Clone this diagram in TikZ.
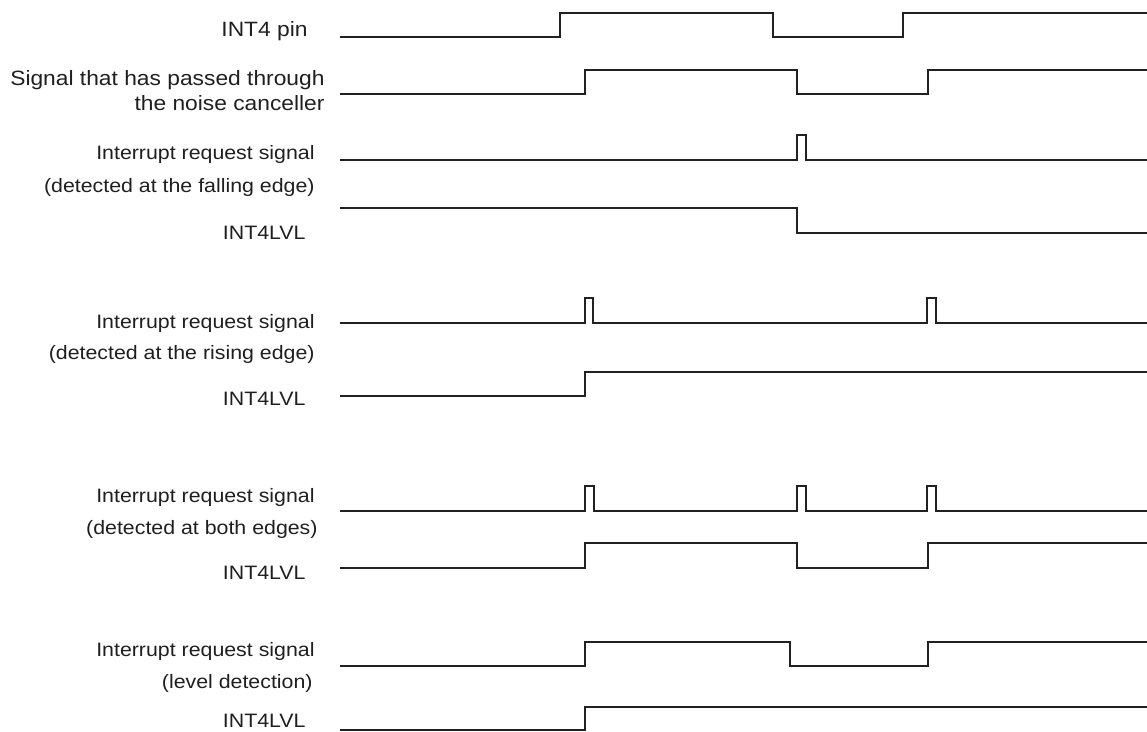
\documentclass[tikz,border=0pt]{standalone}
\usepackage{fontspec}
\setmainfont{Liberation Sans}
\begin{document}
\begin{tikzpicture}[x=0.5pt, y=-0.5pt]

  % Define Colors
  \definecolor{wavegray}{gray}{0.13}
  \definecolor{textgray}{gray}{0.12}

  % Styles
  \tikzstyle{wave}=[line width=1.05pt, wavegray, line join=miter]
  \tikzstyle{lbl}=[anchor=base east, inner sep=0pt, text=textgray, xscale=1.1, transform shape, font=\fontsize{9.7}{12}\selectfont]
  \tikzstyle{lbltop}=[lbl, font=\fontsize{10.36}{12}\selectfont]

  \useasboundingbox (0,0) rectangle (1147,732);

  % Labels
  \node[lbltop] (l_pin)   at (308,37)  {INT4 pin};
  \node[lbltop] (l_nc_1)  at (325,86)  {Signal that has passed through};
  \node[lbltop] (l_nc_2)  at (325,111) {the noise canceller};
  \node[lbl] (l_fe_1)  at (315,160) {Interrupt request signal};
  \node[lbl] (l_fe_2)  at (315,193) {(detected at the falling edge)};
  \node[lbl] (l_fe_3)  at (306,240) {INT4LVL};
  \node[lbl] (l_re_1)  at (315,329) {Interrupt request signal};
  \node[lbl] (l_re_2)  at (315,360) {(detected at the rising edge)};
  \node[lbl] (l_re_3)  at (306,406) {INT4LVL};
  \node[lbl] (l_be_1)  at (315,503) {Interrupt request signal};
  \node[lbl] (l_be_2)  at (318,535) {(detected at both edges)};
  \node[lbl] (l_be_3)  at (306,580) {INT4LVL};
  \node[lbl] (l_lv_1)  at (315,657) {Interrupt request signal};
  \node[lbl] (l_lv_2)  at (313,689) {(level detection)};
  \node[lbl] (l_lv_3)  at (306,727) {INT4LVL};

  % INT4 pin and noise canceller
  \draw[wave] (340,37) -- (560,37) -- (560,13) -- (773,13) -- (773,37) -- (903,37) -- (903,13) -- (1147,13);
  \draw[wave] (340,94) -- (585,94) -- (585,70) -- (797,70) -- (797,94) -- (928,94) -- (928,70) -- (1147,70);

  % Falling edge
  \draw[wave] (340,160) -- (797,160) -- (797,135) -- (806,135) -- (806,160) -- (1147,160);
  \draw[wave] (340,208) -- (797,208) -- (797,233) -- (1147,233);

  % Rising edge
  \draw[wave] (340,323) -- (585,323) -- (585,298) -- (593,298) -- (593,323)
    -- (927,323) -- (927,298) -- (936,298) -- (936,323) -- (1147,323);
  \draw[wave] (340,396) -- (585,396) -- (585,372) -- (1147,372);

  % Both edges
  \draw[wave] (340,511) foreach \x in {585,797,927}{
    -- (\x,511) -- (\x,486) -- (\x+9,486) -- (\x+9,511)} -- (1147,511);
  \draw[wave] (340,568) -- (585,568) -- (585,543) -- (797,543) -- (797,568) -- (928,568) -- (928,543) -- (1147,543);

  % Level detection
  \draw[wave] (340,666) -- (585,666) -- (585,642) -- (790,642) -- (790,666) -- (928,666) -- (928,642) -- (1147,642);
  \draw[wave] (340,730) -- (585,730) -- (585,707) -- (1147,707);

\end{tikzpicture}
\end{document}
